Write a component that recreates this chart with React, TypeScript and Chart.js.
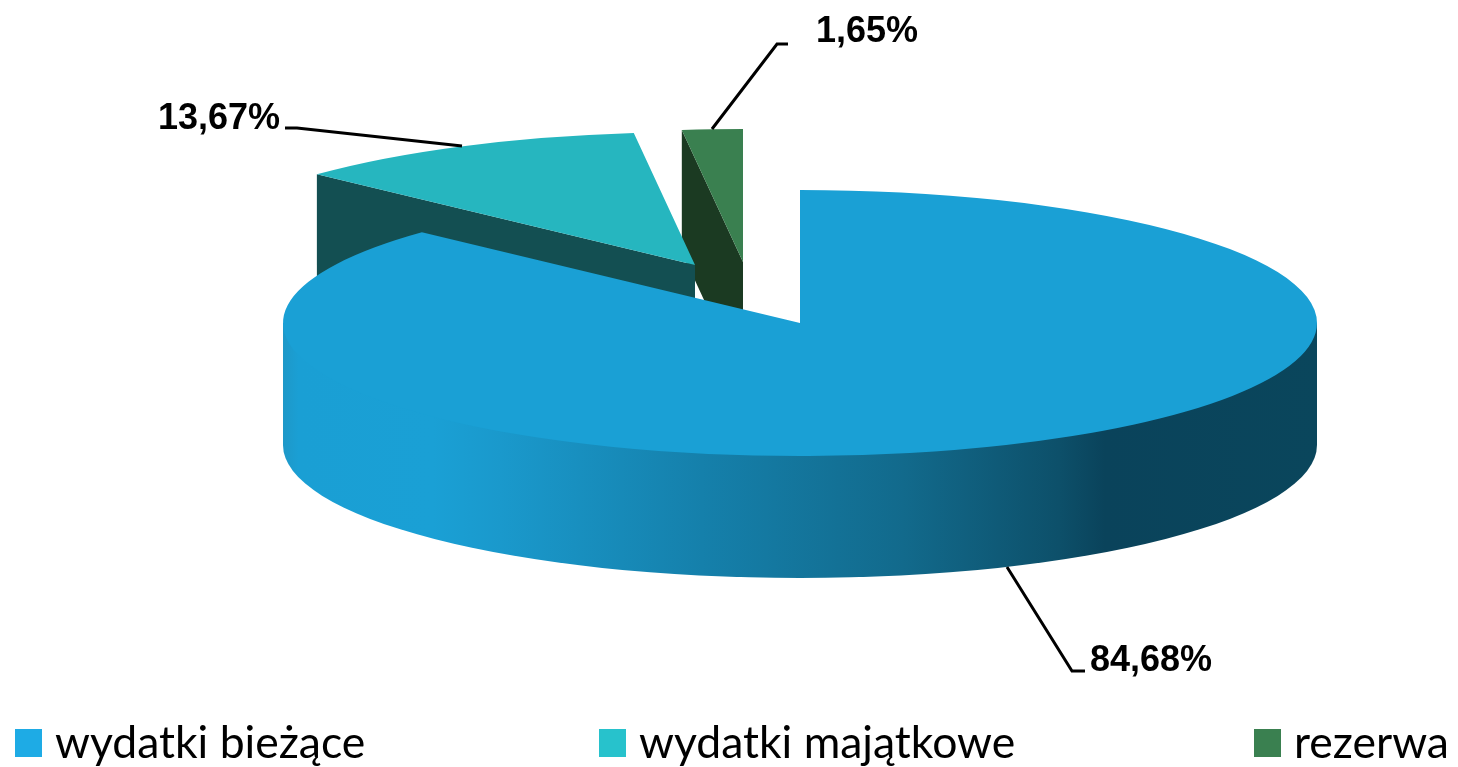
import React, { useEffect, useRef } from "react";
import { Chart, registerables } from "chart.js";

Chart.register(...registerables);

// Data
const categories = ["wydatki bieżące", "wydatki majątkowe", "rezerwa"];
const shares = [84.68, 13.67, 1.65];

// Styles
const topColors = ["#1aa0d5", "#26b6bf", "#3a8050"];
const wallColors = ["#1aa0d5", "#134f52", "#1b3a22"];
const legendColors = ["#1eabe5", "#27c2cc", "#3a8050"];
const perspectiveWeights = [1.0268, 0.8169, 1.1448];
const explodeX = [0, -105, -57];
const explodeY = [0, -58, -61];
const leaderLines = [
  [[1007, 567], [1072, 671], [1085, 671]],
  [[462, 146], [297, 128], [285, 128]],
  [[712, 129], [777, 44], [788, 44]],
];
const labelAnchors = [[1090, 671], [158, 129], [816, 42]];
const legendStarts = [15, 599, 1254];
const RADIUS = 517;
const SQUASH = 133 / 517;
const DEPTH = 122;
const wallStops: [number, string][] = [
  [0, "#1e98c8"],
  [0.015, "#1a9fd4"],
  [0.145, "#1aa0d5"],
  [0.21, "#1a99cc"],
  [0.405, "#1580ab"],
  [0.6, "#126a8c"],
  [0.75, "#0d506a"],
  [0.795, "#0a435b"],
  [1, "#0a465c"],
];

const pie3d = {
  id: "pie3d",
  afterDatasetsUpdate(chart: any) {
    const arcs = chart.getDatasetMeta(0).data;
    const sum = shares.reduce((a, v, i) => a + v * perspectiveWeights[i], 0);
    let angle = -Math.PI / 2;
    const cx = (chart.chartArea.left + chart.chartArea.right) / 2;
    const cy = (chart.chartArea.top + chart.chartArea.bottom) / 2;
    arcs.forEach((arc: any, i: number) => {
      const span = ((shares[i] * perspectiveWeights[i]) / sum) * Math.PI * 2;
      arc.startAngle = angle;
      arc.endAngle = angle + span;
      arc.circumference = span;
      arc.x = cx + explodeX[i];
      arc.y = cy + explodeY[i] / SQUASH;
      angle += span;
    });
  },
  beforeDatasetsDraw(chart: any) {
    const ctx = chart.ctx;
    const arcs = chart.getDatasetMeta(0).data;
    const cy = (chart.chartArea.top + chart.chartArea.bottom) / 2;
    for (let i = arcs.length - 1; i >= 0; i--) {
      const arc = arcs[i];
      const ax = arc.x;
      const ay = cy + (arc.y - cy) * SQUASH;
      const r = arc.outerRadius;
      // cut wall along the slice's starting edge
      const sx = ax + Math.cos(arc.startAngle) * r;
      const sy = ay + Math.sin(arc.startAngle) * r * SQUASH;
      ctx.save();
      ctx.fillStyle = wallColors[i];
      ctx.beginPath();
      ctx.moveTo(sx, sy);
      ctx.lineTo(ax, ay);
      ctx.lineTo(ax, ay + DEPTH);
      ctx.lineTo(sx, sy + DEPTH);
      ctx.closePath();
      ctx.fill();
      // outer rim, where the slice covers the front half; it runs on under
      // the top face so that no seam shows along the shared edge
      if (arc.circumference > Math.PI) {
        const g = ctx.createLinearGradient(ax - r, 0, ax + r, 0);
        wallStops.forEach(([p, c]) => g.addColorStop(p, c));
        ctx.fillStyle = g;
        ctx.beginPath();
        ctx.moveTo(ax + r, ay);
        ctx.lineTo(ax + r, ay + DEPTH);
        ctx.ellipse(ax, ay + DEPTH, r, r * SQUASH, 0, 0, Math.PI);
        ctx.lineTo(ax - r, ay);
        ctx.closePath();
        ctx.fill();
      }
      ctx.restore();
      // the slice's top, drawn by the library's arc element
      ctx.save();
      ctx.translate(0, cy);
      ctx.scale(1, SQUASH);
      ctx.translate(0, -cy);
      arc.draw(ctx);
      ctx.restore();
    }
    return false;
  },
  beforeDatasetDraw() {
    return false;
  },
  afterDraw(chart: any) {
    const ctx = chart.ctx;
    ctx.save();
    // leader lines and value labels
    ctx.strokeStyle = "#000000";
    ctx.lineWidth = 3;
    leaderLines.forEach((pts) => {
      ctx.beginPath();
      pts.forEach(([x, y], j) => (j ? ctx.lineTo(x, y) : ctx.moveTo(x, y)));
      ctx.stroke();
    });
    ctx.fillStyle = "#000000";
    ctx.font = "bold 37.5px 'Liberation Sans'";
    ctx.textAlign = "left";
    ctx.textBaseline = "alphabetic";
    shares.forEach((v, i) => {
      ctx.save();
      ctx.translate(labelAnchors[i][0], labelAnchors[i][1]);
      ctx.scale(0.96, 1);
      ctx.fillText(v.toFixed(2).replace(".", ",") + "%", 0, 0);
      ctx.restore();
    });
    // legend
    ctx.font = "44.5px Lato";
    categories.forEach((name, i) => {
      const x = legendStarts[i];
      ctx.fillStyle = legendColors[i];
      ctx.fillRect(x, 729, 27, 28);
      ctx.fillStyle = "#000000";
      ctx.fillText(name, x + 40, 758);
    });
    ctx.restore();
  },
};

export default function App() {
  const ref = useRef<HTMLCanvasElement>(null);
  useEffect(() => {
    const chart = new Chart(ref.current!, {
      type: "pie",
      data: {
        labels: categories,
        datasets: [{ data: shares, backgroundColor: topColors, borderWidth: 0 }],
      },
      options: {
        responsive: false,
        animation: false,
        events: [],
        radius: RADIUS,
        layout: { padding: { left: 142, bottom: 121, top: 0, right: 0 } },
        plugins: { legend: { display: false }, tooltip: { enabled: false } },
      } as any,
      plugins: [pie3d as any],
    });
    return () => chart.destroy();
  }, []);
  return (
    <div style={{ position: "absolute", left: 0, top: 0, width: 1458, height: 767, background: "#fff" }}>
      <canvas ref={ref} width={1458} height={767} style={{ display: "block" }} />
    </div>
  );
}
